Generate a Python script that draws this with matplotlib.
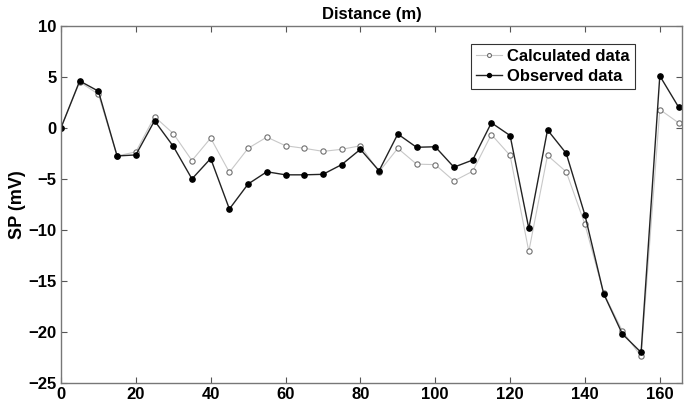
import numpy as np
import matplotlib.pyplot as plt

# distance along the profile (m)
distance = np.arange(0, 170, 5)

# self-potential readings (mV)
observed = [0.0, 4.6, 3.6, -2.75, -2.65, 0.7, -1.8, -5.0, -3.0, -7.95, -5.5, -4.3,
            -4.6, -4.6, -4.55, -3.6, -2.1, -4.2, -0.6, -1.9, -1.85, -3.85, -3.15,
            0.5, -0.75, -9.85, -0.2, -2.5, -8.55, -16.25, -20.2, -22.0, 5.1, 2.05]
calculated = [0.0, 4.5, 3.3, -2.75, -2.35, 1.1, -0.55, -3.2, -1.0, -4.35, -2.0, -0.9,
              -1.75, -2.0, -2.3, -2.1, -1.75, -4.3, -2.0, -3.55, -3.6, -5.2, -4.25,
              -0.65, -2.7, -12.1, -2.7, -4.3, -9.45, -16.2, -19.9, -22.4, 1.8, 0.5]

plt.rcParams['font.family'] = 'Liberation Sans'
plt.rcParams['font.weight'] = 'bold'

fig = plt.figure(figsize=(6.85, 4.04), dpi=100)
ax = fig.add_axes([0.089, 0.052, 0.907, 0.884])

ax.plot(distance, calculated, '-o', color='#c8c8c8', lw=0.8, ms=3.8,
        mfc='white', mec='#707070', mew=0.8, label='Calculated data')
ax.plot(distance, observed, '-o', color='#222222', lw=1.0, ms=3.8,
        mfc='black', mec='black', label='Observed data')

ax.set_xlim(0, 166)
ax.set_ylim(-25, 10)
ax.set_xticks(np.arange(0, 161, 20))
ax.set_yticks(np.arange(-25, 11, 5))
ax.tick_params(direction='in', top=True, right=True, labelsize=12, length=4,
               color='#555555', pad=3)
for lbl in ax.get_xticklabels() + ax.get_yticklabels():
    lbl.set_fontweight('bold')
for s in ax.spines.values():
    s.set_color('#777777')
    s.set_linewidth(1.0)

ax.set_title('Distance (m)', fontsize=12, fontweight='bold', pad=5)
ax.set_ylabel('SP (mV)', fontsize=13, fontweight='bold', labelpad=2)

leg = ax.legend(loc='upper right', bbox_to_anchor=(0.924, 0.95), borderaxespad=0,
                prop={'weight': 'bold', 'size': 12}, handlelength=1.6,
                handletextpad=0.3, borderpad=0.3, labelspacing=0.3,
                fancybox=False, edgecolor='black', markerscale=0.75)
leg.get_frame().set_linewidth(0.8)

fig.savefig('out.png', dpi=100)
